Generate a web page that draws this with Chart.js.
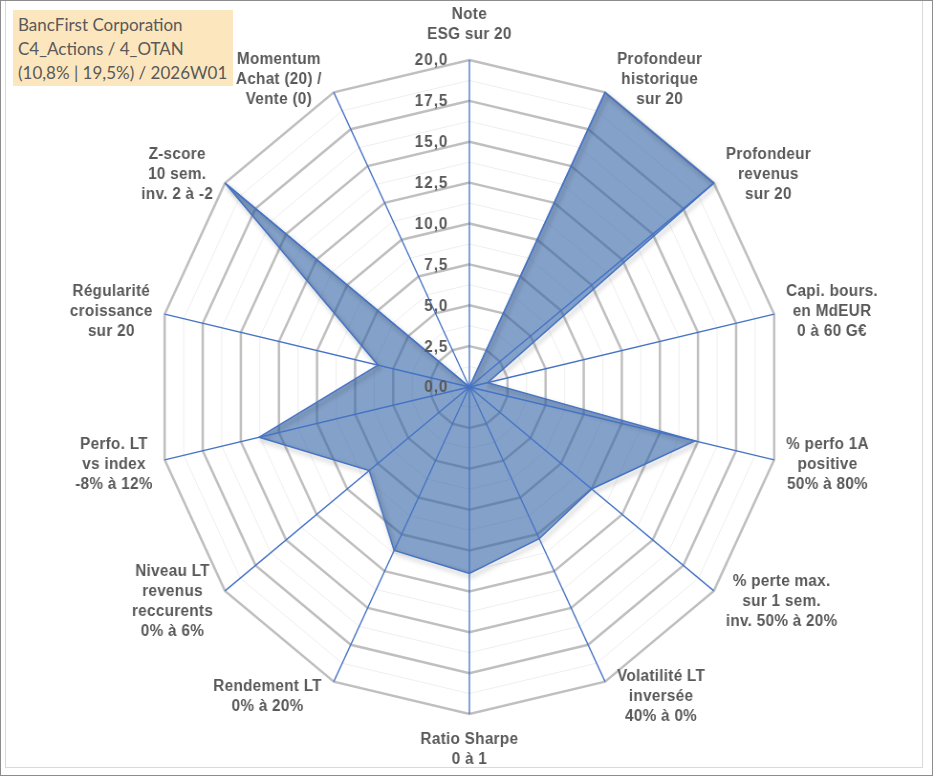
<!DOCTYPE html>
<html>
<head>
<meta charset="utf-8">
<script src="https://cdn.jsdelivr.net/npm/chart.js@4.4.1/dist/chart.umd.min.js"></script>
<style>
  body { margin: 0; background: #fff; overflow: hidden; }
  #frame { position: relative; width: 933px; height: 776px; box-sizing: border-box; border: 1px solid #8c8c8c; overflow: hidden; }
  #inner { position: absolute; left: 4px; top: 0; width: 918px; height: 767px; border: 1px solid #d9d9d9; border-top: none; box-sizing: border-box; }
  #radar { position: absolute; left: -1px; top: -1px; transform: scaleX(0.956); transform-origin: 0 0; }
  #title { position: absolute; left: 12px; top: 9px; width: 220px; height: 76px; background: #fce6be;
           font-family: Lato, "Open Sans", sans-serif; font-size: 17px; color: #595959; line-height: 24px;
           padding: 3px 0 0 5px; box-sizing: border-box; white-space: nowrap; }
</style>
</head>
<body>
<div id="frame">
  <div id="inner"></div>
  <canvas id="radar" width="976" height="776"></canvas>
  <div id="title">BancFirst Corporation<br>C4_Actions / 4_OTAN<br>(10,8% | 19,5%) / 2026W01</div>
</div>
<script>
// Axes of the radar, one multi-line label each
const categories = [
    ['Note', 'ESG sur 20'],
    ['Profondeur', 'historique', 'sur 20'],
    ['Profondeur', 'revenus', 'sur 20'],
    ['Capi. bours.', 'en MdEUR', '0 à 60 G€'],
    ['% perfo 1A', 'positive', '50% à 80%'],
    ['% perte max.', 'sur 1 sem.', 'inv. 50% à 20%'],
    ['Volatilité LT', 'inversée', '40% à 0%'],
    ['Ratio Sharpe', '0 à 1'],
    ['Rendement LT', '0% à 20%'],
    ['Niveau LT', 'revenus', 'reccurents', '0% à 6%'],
    ['Perfo. LT', 'vs index', '-8% à 12%'],
    ['Régularité', 'croissance', 'sur 20'],
    ['Z-score', '10 sem.', 'inv. 2 à -2'],
    ['Momentum', 'Achat (20) /', 'Vente (0)']
];

// Scores (0 to 20)
const scores = [0, 20, 20, 1.2, 14.8, 10, 10.3, 11.4, 11.1, 8.2, 13.8, 6, 20, 0];

// Radial tick labels
const tickValues = [0, 2.5, 5, 7.5, 10, 12.5, 15, 17.5, 20];
const tickLabels = ['0,0', '2,5', '5,0', '7,5', '10,0', '12,5', '15,0', '17,5', '20,0'];

const textColor = '#595959';
const labelFont = 'bold 16px "Liberation Sans", Arial, sans-serif';

// soft shadow under the outline of the series
const shadowPlugin = {
    id: 'shadow',
    beforeDatasetDraw(chart) {
        const ctx = chart.ctx;
        ctx.save();
        ctx.shadowColor = 'rgba(0,0,0,0.38)';
        ctx.shadowBlur = 5;
        ctx.shadowOffsetX = 2;
        ctx.shadowOffsetY = 3;
    },
    afterDatasetDraw(chart) {
        chart.ctx.restore();
    }
};

// blue spokes over the fill, tick values and axis labels
const overlayPlugin = {
    id: 'overlay',
    afterDatasetsDraw(chart) {
        const s = chart.scales.r;
        const ctx = chart.ctx;
        const n = chart.data.labels.length;
        ctx.save();

        ctx.strokeStyle = '#4472C4';
        ctx.lineWidth = 1.3;
        for (let i = 0; i < n; i++) {
            const p = s.getPointPosition(i, s.drawingArea);
            ctx.beginPath();
            ctx.moveTo(s.xCenter, s.yCenter);
            ctx.lineTo(p.x, p.y);
            ctx.stroke();
        }

        ctx.font = labelFont;
        ctx.fillStyle = textColor;
        ctx.textBaseline = 'middle';

        // tick values, left of the top spoke
        ctx.textAlign = 'right';
        ctx.letterSpacing = '1px';
        tickValues.forEach((v, k) => {
            const y = s.yCenter - s.getDistanceFromCenterForValue(v);
            ctx.fillText(tickLabels[k], s.xCenter - 22, y + 1);
        });

        // axis labels, centred lines next to each vertex
        ctx.letterSpacing = '0.3px';
        ctx.textAlign = 'center';
        const lh = 20;
        chart.data.labels.forEach((lines, i) => {
            const p = s.getPointPosition(i, s.drawingArea);
            const th = i * 2 * Math.PI / n;
            const sn = Math.sin(th), cs = Math.cos(th);
            const h = lines.length * lh;
            const w = Math.max(...lines.map(t => ctx.measureText(t).width));
            let cx, cy;
            if (Math.abs(sn) < 0.1) {
                cx = p.x;
                cy = cs > 0 ? p.y - 16 - h / 2 : p.y + 15 + h / 2;
            } else {
                cx = sn > 0 ? p.x + 12.5 + w / 2 : p.x - 12.5 - w / 2;
                cy = p.y - 15 * cs;
            }
            lines.forEach((t, j) => ctx.fillText(t, cx, cy - h / 2 + lh * (j + 0.5) + 1));
        });
        ctx.restore();
    }
};

const isMajor = v => Math.abs(v / 2.5 - Math.round(v / 2.5)) < 1e-6;

new Chart(document.getElementById('radar'), {
    type: 'radar',
    data: {
        labels: categories,
        datasets: [{
            label: 'BancFirst Corporation',
            data: scores,
            backgroundColor: 'rgba(50,98,165,0.6)',
            borderColor: '#4472C4',
            borderWidth: 1.5,
            pointRadius: 0,
            fill: true
        }]
    },
    options: {
        responsive: false,
        animation: false,
        layout: { padding: { left: 164, right: 158, top: 60, bottom: 62 } },
        plugins: {
            legend: { display: false },
            tooltip: { enabled: false }
        },
        scales: {
            r: {
                min: 0,
                max: 20,
                ticks: { stepSize: 1.25, display: false },
                pointLabels: { display: false },
                angleLines: { display: false },
                grid: {
                    color: c => isMajor(c.tick.value) ? '#BFBFBF' : '#EEEEEE',
                    lineWidth: c => isMajor(c.tick.value) ? 2.5 : 1
                }
            }
        }
    },
    plugins: [shadowPlugin, overlayPlugin]
});
</script>
</body>
</html>
